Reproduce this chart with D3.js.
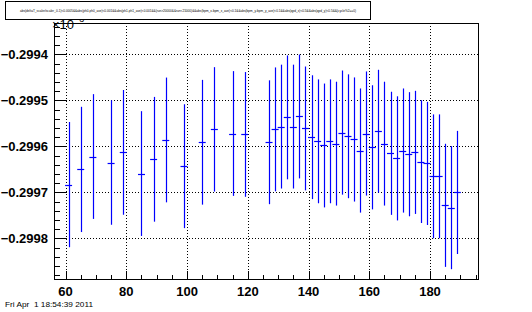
<!DOCTYPE html>
<meta charset="utf-8">
<title>Error bar graph</title>
<script src="https://d3js.org/d3.v7.min.js"></script>
<style>
  body { margin: 0; background: #fff; }
  text { font-family: "Liberation Sans", Arial, sans-serif; }
</style>
<div id="chart"></div>
<script>
  // values
  const xVals = [61, 65, 69, 75, 79, 85, 89, 93, 99, 105, 109, 115, 119,
    127, 129, 131, 133, 135, 137, 139, 141, 143, 145, 147, 149,
    151, 153, 155, 157, 159, 161, 163, 165, 167, 169, 171, 173, 175, 177, 179,
    181, 183, 185, 187, 189];
  const yVals = [-0.299683, -0.29965, -0.299622, -0.299635, -0.299613, -0.299659, -0.299628, -0.299586, -0.299643, -0.299591, -0.299563, -0.299572, -0.299574,
    -0.299591, -0.299563, -0.299557, -0.299537, -0.299557, -0.299535, -0.299561, -0.29958, -0.299589, -0.299598, -0.299589, -0.299594,
    -0.29957, -0.299578, -0.299585, -0.299609, -0.299572, -0.299602, -0.299567, -0.299594, -0.299615, -0.299626, -0.299609, -0.299617, -0.299613, -0.299633, -0.299637,
    -0.299665, -0.299665, -0.299728, -0.299733, -0.2997];
  const yErr = [0.000136, 0.000136, 0.0001355, 0.0001352, 0.0001355, 0.0001355, 0.0001355, 0.0001355, 0.0001345, 0.0001355, 0.0001351, 0.0001355, 0.0001355,
    0.0001345, 0.0001345, 0.0001345, 0.0001345, 0.0001345, 0.0001345, 0.0001345, 0.0001345, 0.0001345, 0.0001345, 0.0001345, 0.0001345,
    0.0001348, 0.0001345, 0.0001348, 0.0001348, 0.0001348, 0.0001348, 0.0001334, 0.0001345, 0.0001337, 0.0001348, 0.0001348, 0.0001348, 0.0001337, 0.0001334, 0.0001337,
    0.0001345, 0.0001345, 0.0001337, 0.0001337, 0.0001337];
  const xTicks = [60, 80, 100, 120, 140, 160, 180];
  const yTicks = [-0.2998, -0.2997, -0.2996, -0.2995, -0.2994];
  const titleText = "abs(deltaT_scaler/scaler_0-1)<0.0005&&abs(ph0-ph0_ave)<0.001&&abs(ph1-ph1_ave)<0.001&&(run>20000&&run<21000)&&abs(bpm_x-bpm_x_ave)<0.1&&abs(bpm_y-bpm_y_ave)<0.1&&abs(qpd_x)<0.5&&abs(qpd_y)<0.5&&(cycle%2==0)";
  const dateText = "Fri Apr  1 18:54:39 2011";

  const W = 532, H = 312;
  const frame = { left: 54, right: 478, top: 23, bottom: 279 };

  const svg = d3.select("#chart").append("svg")
    .attr("width", W).attr("height", H);

  const x = d3.scaleLinear().domain([56.2, 195.8]).range([frame.left, frame.right]);
  const y = d3.scaleLinear().domain([-0.299888, -0.299332]).range([frame.bottom, frame.top]);

  // dotted grid
  svg.append("g").selectAll("line").data(xTicks).join("line")
    .attr("x1", d => Math.round(x(d)) + 0.5).attr("x2", d => Math.round(x(d)) + 0.5)
    .attr("y1", frame.top).attr("y2", frame.bottom)
    .attr("stroke", "#000").attr("stroke-dasharray", "1,2");
  svg.append("g").selectAll("line").data(yTicks).join("line")
    .attr("y1", d => Math.round(y(d)) + 0.5).attr("y2", d => Math.round(y(d)) + 0.5)
    .attr("x1", frame.left).attr("x2", frame.right)
    .attr("stroke", "#000").attr("stroke-dasharray", "1,2");

  // axes with inward ticks
  const xMinor = d3.range(60, 196, 5);
  svg.append("g").selectAll("line").data(xMinor).join("line")
    .attr("x1", d => Math.round(x(d)) + 0.5).attr("x2", d => Math.round(x(d)) + 0.5)
    .attr("y1", frame.bottom)
    .attr("y2", d => frame.bottom - (d % 20 === 0 ? 8 : 4))
    .attr("stroke", "#000");
  const yMinor = d3.range(-0.29988, -0.29933, 0.00002);
  svg.append("g").selectAll("line").data(yMinor).join("line")
    .attr("y1", d => Math.round(y(d)) + 0.5).attr("y2", d => Math.round(y(d)) + 0.5)
    .attr("x1", frame.left)
    .attr("x2", d => frame.left + (Math.abs(Math.round(d * 1e5) % 10) === 0 ? 12 : 6))
    .attr("stroke", "#000");

  svg.append("g").selectAll("text").data(xTicks).join("text")
    .attr("x", d => x(d)).attr("y", 296)
    .attr("text-anchor", "middle")
    .style("font-size", "13px").style("font-weight", "bold")
    .text(d => d);
  svg.append("g").selectAll("text").data(yTicks).join("text")
    .attr("x", 48).attr("y", d => y(d) + 5)
    .attr("text-anchor", "end")
    .style("font-size", "13px").style("font-weight", "bold")
    .text(d => d3.format(".4f")(d));

  const exp = svg.append("text").attr("x", 52).attr("y", 29)
    .style("font-size", "13px");
  exp.append("tspan").text("×10");
  exp.append("tspan").attr("dy", -7).style("font-size", "9px").text("−3");

  // error bars
  const pts = xVals.map((v, i) => ({ x: v, y: yVals[i], e: yErr[i] }));
  const g = svg.append("g").attr("stroke", "#0000ff").attr("stroke-width", 1.2);
  g.selectAll(".bar").data(pts).join("line")
    .attr("x1", d => Math.round(x(d.x)) + 0.5).attr("x2", d => Math.round(x(d.x)) + 0.5)
    .attr("y1", d => y(d.y + d.e)).attr("y2", d => y(d.y - d.e));
  g.selectAll(".mk").data(pts).join("line")
    .attr("x1", d => x(d.x) - 3.5).attr("x2", d => x(d.x) + 3.5)
    .attr("y1", d => Math.round(y(d.y)) + 0.5).attr("y2", d => Math.round(y(d.y)) + 0.5);

  // frame
  svg.append("rect")
    .attr("x", frame.left + 0.5).attr("y", frame.top + 0.5)
    .attr("width", frame.right - frame.left).attr("height", frame.bottom - frame.top)
    .attr("fill", "none").attr("stroke", "#000");

  // title box
  svg.append("rect").attr("x", 5.5).attr("y", 1.5).attr("width", 365).attr("height", 18)
    .attr("fill", "#fff").attr("stroke", "#000");
  svg.append("text").attr("x", 188).attr("y", 12).attr("text-anchor", "middle")
    .attr("textLength", 336).attr("lengthAdjust", "spacingAndGlyphs")
    .style("font-size", "4px").text(titleText);

  svg.append("text").attr("x", 5).attr("y", 307)
    .style("font-size", "8px").style("white-space", "pre")
    .attr("textLength", 88).attr("lengthAdjust", "spacingAndGlyphs")
    .text(dateText);
</script>
